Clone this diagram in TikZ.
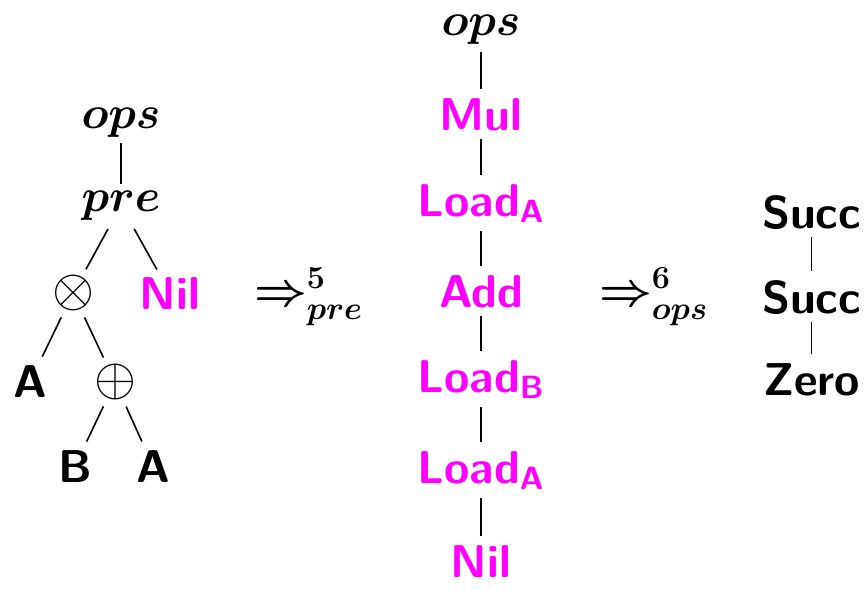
\RequirePackage{fix-cm}
\documentclass[tikz,border=0pt]{standalone}
\usepackage{amsmath}
\usetikzlibrary{calc}
\definecolor{mg}{RGB}{255,0,255}
\begin{document}
\begin{tikzpicture}[x=1pt,y=-1pt,
  lbl/.style={font=\fontsize{46}{54}\selectfont\sffamily\bfseries\boldmath, inner sep=0pt, outer sep=0pt, text=black},
  opsym/.style={font=\fontsize{54}{60}\selectfont\unboldmath, inner sep=0pt, outer sep=0pt, text=black},
  mag/.style={lbl, text=mg},
  ln/.style={line width=1.6pt, black},
  vln/.style={ln, shorten <=8pt, shorten >=9pt}]
\useasboundingbox (0,0) rectangle (867,589);
% left tree
\node[lbl,anchor=base] (lops) at (121,128) {$ops$};
\node[lbl,anchor=base] (lpre) at (121,211) {$pre$};
\node[opsym] (otimes) at (73,293) {$\otimes$};
\node[mag,anchor=base] (lnil) at (170,309) {Nil};
\node[lbl,anchor=base] (la1) at (30.5,397) {A};
\node[opsym] (oplus) at (115,382) {$\oplus$};
\node[lbl,anchor=base] (lb) at (75,482) {B};
\node[lbl,anchor=base] (la2) at (153,482) {A};
\draw[ln] ($(lops.center)!21pt!(lpre.center)$) -- ($(lpre.center)!21pt!(lops.center)$);
\draw[ln] ($(lpre.center)!27pt!(otimes.center)$) -- ($(otimes.center)!27pt!(lpre.center)$);
\draw[ln] ($(lpre.center)!27pt!(lnil.center)$) -- ($(lnil.center)!27pt!(lpre.center)$);
\draw[ln] ($(otimes.center)!27pt!(la1.center)$) -- ($(la1.center)!27pt!(otimes.center)$);
\draw[ln] ($(otimes.center)!27pt!(oplus.center)$) -- ($(oplus.center)!27pt!(otimes.center)$);
\draw[ln] ($(oplus.center)!27pt!(lb.center)$) -- ($(lb.center)!27pt!(oplus.center)$);
\draw[ln] ($(oplus.center)!27pt!(la2.center)$) -- ($(la2.center)!27pt!(oplus.center)$);
% arrows
\node[lbl,anchor=base west] (arr1) at (254,305) {$\Rightarrow^{5}_{pre}$};
\node[lbl,anchor=base west] (arr2) at (599,305) {$\Rightarrow^{6}_{ops}$};
% middle column
\node[lbl,anchor=base] (mops) at (481,35) {$ops$};
\node[mag,anchor=base] (mul) at (481,130) {Mul};
\node[mag,anchor=base] (lda1) at (481,216) {Load$_{\text{A}}$};
\node[mag,anchor=base] (add) at (481,307) {Add};
\node[mag,anchor=base] (ldb) at (481,392) {Load$_{\text{B}}$};
\node[mag,anchor=base] (lda2) at (481,483) {Load$_{\text{A}}$};
\node[mag,anchor=base] (mnil) at (481,577) {Nil};
\draw[vln] (mops.south) -- (mul.north);
\draw[vln] (mul.south) -- (lda1.north);
\draw[vln] (lda1.south) -- (add.north);
\draw[vln] (add.south) -- (ldb.north);
\draw[vln] (ldb.south) -- (lda2.north);
\draw[vln] (lda2.south) -- (mnil.north);
% right column
\node[lbl,anchor=base] (s1) at (811.5,228) {Succ};
\node[lbl,anchor=base] (s2) at (811.5,313) {Succ};
\node[lbl,anchor=base] (z) at (811.5,395) {Zero};
\draw[vln] (s1.south) -- (s2.north);
\draw[vln] (s2.south) -- (z.north);
\end{tikzpicture}
\end{document}
